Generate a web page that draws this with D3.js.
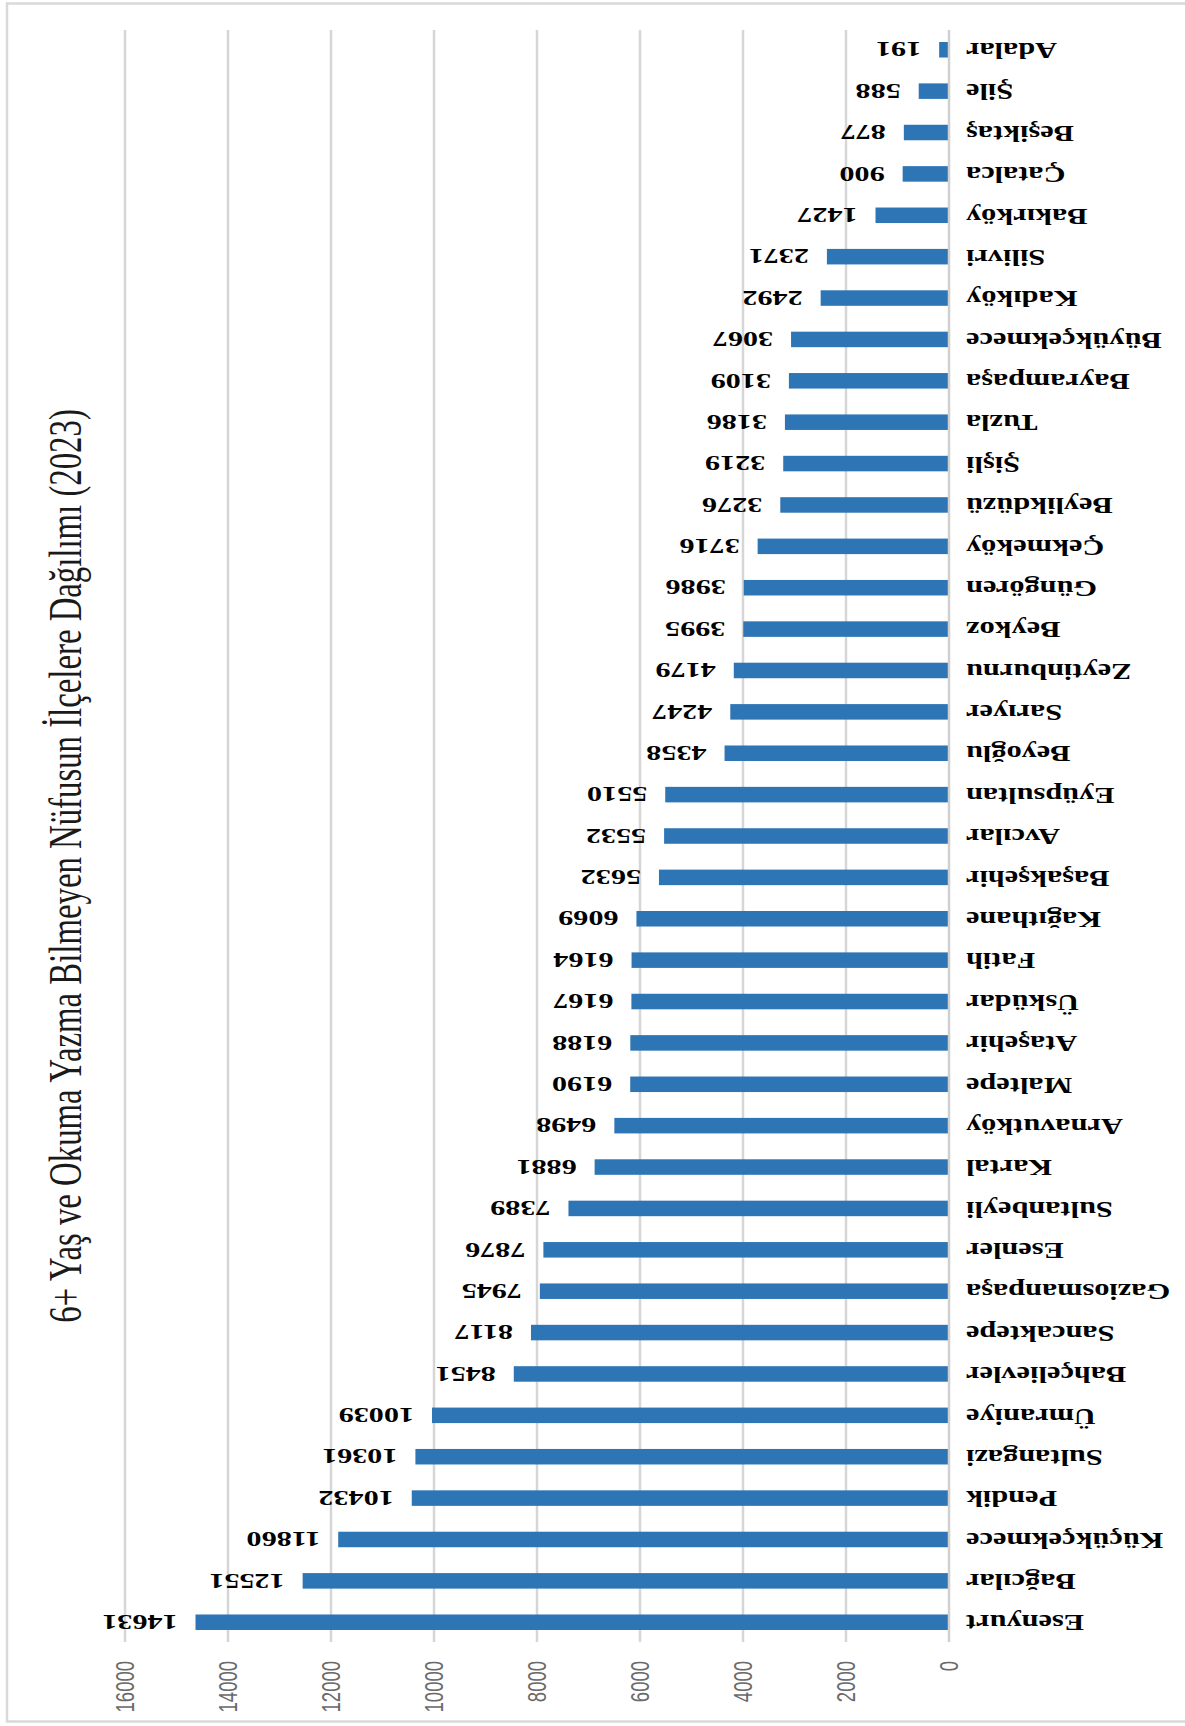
<!DOCTYPE html>
<html>
<head>
<meta charset="utf-8">
<script src="https://cdn.jsdelivr.net/npm/d3@7"></script>
<style>
  html, body { margin: 0; padding: 0; background: #fff; }
  svg { display: block; }
</style>
</head>
<body>
<svg id="chart" width="1185" height="1726"></svg>
<script>
// ---- data ----
const titleText = "6+ Yaş ve Okuma Yazma Bilmeyen Nüfusun İlçelere Dağılımı (2023)";
const districts = ["Esenyurt","Bağcılar","Küçükçekmece","Pendik","Sultangazi","Ümraniye","Bahçelievler","Sancaktepe","Gaziosmanpaşa","Esenler","Sultanbeyli","Kartal","Arnavutköy","Maltepe","Ataşehir","Üsküdar","Fatih","Kağıthane","Başakşehir","Avcılar","Eyüpsultan","Beyoğlu","Sarıyer","Zeytinburnu","Beykoz","Güngören","Çekmeköy","Beylikdüzü","Şişli","Tuzla","Bayrampaşa","Büyükçekmece","Kadıköy","Silivri","Bakırköy","Çatalca","Beşiktaş","Şile","Adalar"];
const illiterate = [14631,12551,11860,10432,10361,10039,8451,8117,7945,7876,7389,6881,6498,6190,6188,6167,6164,6069,5632,5532,5510,4358,4247,4179,3995,3986,3716,3276,3219,3186,3109,3067,2492,2371,1427,900,877,588,191];
const tickValues = [0,2000,4000,6000,8000,10000,12000,14000,16000];

const rows = districts.map((d, i) => ({ name: d, value: illiterate[i] }));

const svg = d3.select("#chart");

// outer border
svg.append("rect")
  .attr("x", 7).attr("y", 3.5).attr("width", 1190).attr("height", 1718)
  .attr("fill", "#fff").attr("stroke", "#d9d9d9").attr("stroke-width", 2.5);

const x = d3.scaleLinear().domain([0, 16000]).range([949, 125]);
const y = d3.scaleBand().domain(districts).range([1642, 30])
  .paddingInner(0.625).paddingOuter(0.29);

// gridlines
svg.append("g").selectAll("line")
  .data(tickValues.filter(v => v > 0))
  .join("line")
  .attr("x1", d => x(d)).attr("x2", d => x(d))
  .attr("y1", 30).attr("y2", 1642)
  .attr("stroke", "#d6d6d6").attr("stroke-width", 2.5);

// bars
svg.append("g").selectAll("rect")
  .data(rows)
  .join("rect")
  .attr("x", d => x(d.value))
  .attr("y", d => y(d.name))
  .attr("width", d => x(0) - x(d.value))
  .attr("height", y.bandwidth())
  .attr("fill", "#2e75b6");

// category axis line
svg.append("line")
  .attr("x1", x(0)).attr("x2", x(0)).attr("y1", 30).attr("y2", 1642)
  .attr("stroke", "#d0d0d0").attr("stroke-width", 2.5);

// value tick labels (rotated -90)
svg.append("g").selectAll("text")
  .data(tickValues)
  .join("text")
  .attr("transform", d => `translate(${x(d)},1661) rotate(-90) scale(1,1.4)`)
  .attr("text-anchor", "end")
  .attr("dy", "0.36em")
  .attr("font-family", "'Liberation Sans', Arial, sans-serif")
  .attr("font-size", 18.5)
  .attr("fill", "#6a6a6a")
  .text(d => d3.format("d")(d));

// category labels (upside down)
svg.append("g").selectAll("text")
  .data(rows)
  .join("text")
  .attr("transform", d => `translate(966,${y(d.name) + y.bandwidth() / 2}) rotate(180) scale(1.35,1)`)
  .attr("text-anchor", "end")
  .attr("dy", "0.3em")
  .attr("font-family", "'Liberation Serif', 'Times New Roman', serif")
  .attr("font-weight", "bold")
  .attr("font-size", 22.5)
  .attr("fill", "#000")
  .text(d => d.name);

// data labels (upside down)
svg.append("g").selectAll("text")
  .data(rows)
  .join("text")
  .attr("transform", d => `translate(${x(d.value) - 18},${y(d.name) + y.bandwidth() / 2}) rotate(180) scale(1.37,1)`)
  .attr("text-anchor", "start")
  .attr("dy", "0.33em")
  .attr("font-family", "'Liberation Serif', 'Times New Roman', serif")
  .attr("font-weight", "bold")
  .attr("font-size", 22)
  .attr("fill", "#000")
  .text(d => d3.format("d")(d.value));

// title (rotated -90)
svg.append("text")
  .attr("transform", `translate(66,866) rotate(-90) scale(1,1.42)`)
  .attr("text-anchor", "middle")
  .attr("dy", "0.33em")
  .attr("font-family", "'Liberation Serif', 'Times New Roman', serif")
  .attr("font-size", 32.8)
  .attr("fill", "#1a1a1a")
  .text(titleText);
</script>
</body>
</html>
